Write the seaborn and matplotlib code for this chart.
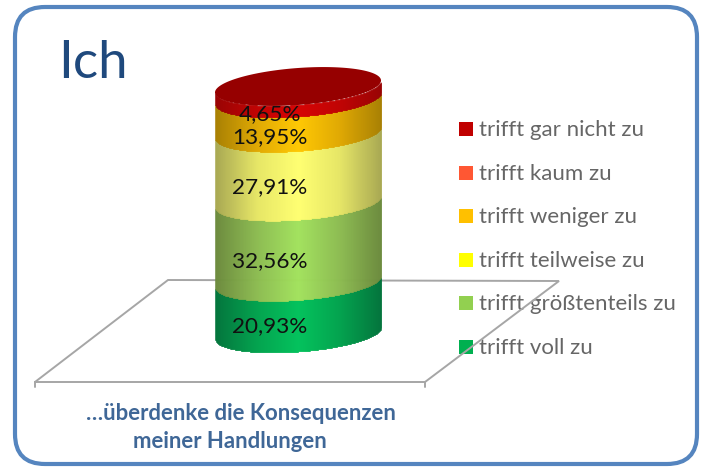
import numpy as np
import pandas as pd
import matplotlib.pyplot as plt
from matplotlib.patches import FancyBboxPatch
import seaborn as sns

# Werte von unten nach oben
anteile = [20.93, 32.56, 27.91, 13.95, 4.65]
anteil_labels = ["20,93%", "32,56%", "27,91%", "13,95%", "4,65%"]
rand_farben = ["#00733a", "#6b8a3c", "#a8a850", "#a87f00", "#980000"]
halb_farben = ["#00a24c", "#8cbc50", "#e6e664", "#e0a800", "#c00000"]
mitte_farben = ["#00c25a", "#a2e25c", "#ffff70", "#ffc800", "#d60000"]
deckel_farbe = "#960000"

legende_labels = ["trifft gar nicht zu", "trifft kaum zu", "trifft weniger zu",
                  "trifft teilweise zu", "trifft größtenteils zu", "trifft voll zu"]
legende_farben = ["#C00000", "#FF5733", "#FFC000", "#FFFF00", "#92D050", "#00B050"]

sns.set_theme(style="white")
plt.rcParams['font.family'] = ['Lato', 'DejaVu Sans']

W, H = 703, 467
PX_PRO_PROZENT = 2.465

# Geometrie des Zylinders in Pixeln
cx, a = 298, 83
mitte_unten, b, neigung = 333, 18.5, -0.072
nullinie = mitte_unten + b


def prozent_aus_px(y_px):
    return (nullinie - y_px) / PX_PRO_PROZENT


def vorderkante(x):
    u = np.clip((x - cx) / a, -1, 1)
    return mitte_unten + neigung * (x - cx) + b * np.sqrt(1 - u ** 2)


fig = plt.figure(figsize=(W / 100, H / 100), dpi=100, facecolor="white")

# Hintergrund: Rahmen, Legende, Bodenplatte, Texte (Pixelkoordinaten)
ax_bg = fig.add_axes([0, 0, 1, 1])
ax_bg.set_xlim(0, W)
ax_bg.set_ylim(H, 0)
ax_bg.axis("off")

rahmen = FancyBboxPatch((45, 37), 622, 397, boxstyle="round,pad=30,rounding_size=30",
                        fill=False, ec="#5585BF", lw=3)
ax_bg.add_patch(rahmen)

ax_bg.text(58, 63, "Ich", fontsize=38, color="#1F497D", va="center", ha="left")

legende = pd.DataFrame({"label": legende_labels,
                        "x": 466,
                        "y": [129, 173, 216, 260, 303, 347]})
sns.scatterplot(data=legende, x="x", y="y", hue="label", palette=legende_farben,
                marker="s", s=95, linewidth=0, legend=False, ax=ax_bg, zorder=2)
for _, zeile in legende.iterrows():
    ax_bg.text(479, zeile["y"] + 1, zeile["label"], fontsize=16, color="#666666",
               va="center", ha="left", zorder=2)
ax_bg.set_xlim(0, W)
ax_bg.set_ylim(H, 0)
ax_bg.set_xlabel("")
ax_bg.set_ylabel("")

platte_x = [35, 168, 559, 425, 35, 35]
platte_y = [382, 280, 281, 382, 382, 387]
ax_bg.plot(platte_x, platte_y, color="#A6A6A6", lw=1.4, zorder=3, solid_joinstyle="miter")
ax_bg.plot([425, 425], [382, 387], color="#A6A6A6", lw=1.4, zorder=3)

ax_bg.text(241, 413, "…überdenke die Konsequenzen", fontsize=15.9, fontweight="bold",
           color="#3F6797", ha="center", va="center")
ax_bg.text(230, 442, "meiner Handlungen", fontsize=15.9, fontweight="bold",
           color="#3F6797", ha="center", va="center")

# Zylinder: Achse in Prozent, x in Pixeln
ax = fig.add_axes([0, 0, 1, 1], facecolor="none")
ax.patch.set_alpha(0)

schritt = 0.5
streifen_x = np.arange(cx - a + schritt / 2, cx + a, schritt)
n = len(streifen_x)
versatz = prozent_aus_px(vorderkante(streifen_x))

sockel = 0
for wert, rand, halb, mitte in zip(anteile, rand_farben, halb_farben, mitte_farben):
    verlauf = sns.blend_palette([rand, halb, mitte, halb, rand], n)
    anzahl = len(ax.patches)
    sns.barplot(x=streifen_x, y=np.full(n, wert), native_scale=True, errorbar=None,
                width=1, color=mitte, ax=ax, zorder=4)
    for patch, unten, farbe in zip(ax.patches[anzahl:], versatz, verlauf):
        patch.set_y(sockel + unten)
        patch.set_facecolor(farbe)
        patch.set_edgecolor(farbe)
        patch.set_linewidth(0.4)
    sockel += wert

# Deckel
t = np.linspace(0, 2 * np.pi, 200)
deckel_x = cx + a * np.cos(t)
deckel_y = mitte_unten + neigung * a * np.cos(t) + b * np.sin(t) - sockel * PX_PRO_PROZENT
ax.fill(deckel_x, prozent_aus_px(deckel_y), color=deckel_farbe, lw=0, zorder=5)

# Beschriftung der Segmente, leicht unter die Segmentmitte gerueckt
label_tiefer = [0.0, 0.6, 0.6, 1.2, 1.2]
sockel = 0
for wert, label, tiefer in zip(anteile, anteil_labels, label_tiefer):
    ax.text(270, sockel + wert / 2 - tiefer, label, fontsize=16.2, color="#111111",
            ha="center", va="center", zorder=6)
    sockel += wert

ax.set_xlim(0, W)
ax.set_ylim(prozent_aus_px(H), prozent_aus_px(0))
ax.axis("off")

fig.savefig("out.png", dpi=100)
plt.close(fig)
